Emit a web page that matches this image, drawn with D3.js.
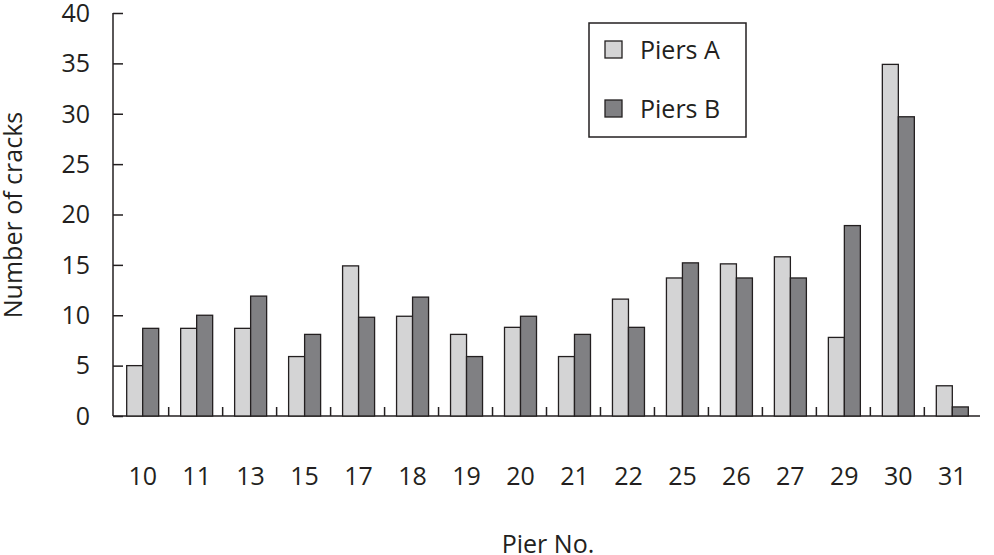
<!DOCTYPE html>
<html lang="en">
<head>
<meta charset="UTF-8">
<script src="https://cdn.jsdelivr.net/npm/d3@7"></script>
<style>
body { margin: 0; background: #fff; }
text { font-family: "Open Sans", "Noto Sans", sans-serif; fill: #231f20; }
</style>
</head>
<body>
<svg width="994" height="555"></svg>
<script>
// Data
var piers = ["10", "11", "13", "15", "17", "18", "19", "20", "21", "22", "25", "26", "27", "29", "30", "31"];
var piersA = [5, 8.7, 8.7, 5.9, 14.9, 9.9, 8.1, 8.8, 5.9, 11.6, 13.7, 15.1, 15.8, 7.8, 34.9, 3.0];
var piersB = [8.7, 10, 11.9, 8.1, 9.8, 11.8, 5.9, 9.9, 8.1, 8.8, 15.2, 13.7, 13.7, 18.9, 29.7, 0.9];
var yTicks = [0, 5, 10, 15, 20, 25, 30, 35, 40];

var svg = d3.select("svg");
var mLeft = 113, mRight = 982, mTop = 13, mBottom = 416;

var x = d3.scaleBand().domain(piers).range([mLeft, mRight]).paddingInner(0).paddingOuter(0.05);
var y = d3.scaleLinear().domain([0, 40]).range([mBottom, mTop]);
var barW = 16;

// y axis, ticks pointing inward
var yAxis = svg.append("g").attr("transform", "translate(" + mLeft + ",0)")
    .call(d3.axisRight(y).tickValues(yTicks).tickSize(10).tickFormat(""));
yAxis.selectAll("path, line").attr("stroke", "#231f20").attr("stroke-width", 1.5);
yAxis.select(".domain").attr("d", "M0," + mTop + "V" + mBottom);

svg.selectAll(".ylab").data(yTicks).enter().append("text")
    .attr("x", 90).attr("y", function(d) { return y(d); })
    .attr("dy", "0.35em").attr("text-anchor", "end")
    .style("font-size", "25px").text(function(d) { return d; });

// x axis line and separator ticks
svg.append("line").attr("x1", mLeft).attr("x2", mRight - 2).attr("y1", mBottom).attr("y2", mBottom)
    .attr("stroke", "#231f20").attr("stroke-width", 1.5);
svg.selectAll(".sep").data(piers.slice(1)).enter().append("line")
    .attr("x1", function(d) { return x(d) - 1; }).attr("x2", function(d) { return x(d) - 1; })
    .attr("y1", mBottom).attr("y2", mBottom - 9)
    .attr("stroke", "#231f20").attr("stroke-width", 1.5);

var cx = function(d) { return x(d) + x.bandwidth() / 2; };

svg.selectAll(".barA").data(piers).enter().append("rect")
    .attr("x", function(d) { return cx(d) - barW; })
    .attr("y", function(d, i) { return y(piersA[i]); })
    .attr("width", barW)
    .attr("height", function(d, i) { return mBottom - y(piersA[i]); })
    .attr("fill", "#d4d4d5").attr("stroke", "#231f20").attr("stroke-width", 1.3);

svg.selectAll(".barB").data(piers).enter().append("rect")
    .attr("x", function(d) { return cx(d); })
    .attr("y", function(d, i) { return y(piersB[i]); })
    .attr("width", barW)
    .attr("height", function(d, i) { return mBottom - y(piersB[i]); })
    .attr("fill", "#808083").attr("stroke", "#231f20").attr("stroke-width", 1.3);

svg.selectAll(".xlab").data(piers).enter().append("text")
    .attr("x", cx).attr("y", 485).attr("text-anchor", "middle")
    .style("font-size", "25px").text(function(d) { return d; });

svg.append("text").attr("x", 548).attr("y", 553).attr("text-anchor", "middle")
    .style("font-size", "25px").text("Pier No.");
svg.append("text").attr("transform", "translate(22,215) rotate(-90)").attr("text-anchor", "middle")
    .style("font-size", "25px").text("Number of cracks");

// legend
var lg = svg.append("g");
lg.append("rect").attr("x", 589).attr("y", 23).attr("width", 157).attr("height", 114)
    .attr("fill", "#fff").attr("stroke", "#231f20").attr("stroke-width", 1.5);
[["Piers A", "#d4d4d5", 50], ["Piers B", "#808083", 109]].forEach(function(e) {
    lg.append("rect").attr("x", 605).attr("y", e[2] - 9).attr("width", 17).attr("height", 17)
        .attr("fill", e[1]).attr("stroke", "#231f20").attr("stroke-width", 1.3);
    lg.append("text").attr("x", 640).attr("y", e[2]).attr("dy", "0.35em")
        .style("font-size", "25px").text(e[0]);
});
</script>
</body>
</html>
